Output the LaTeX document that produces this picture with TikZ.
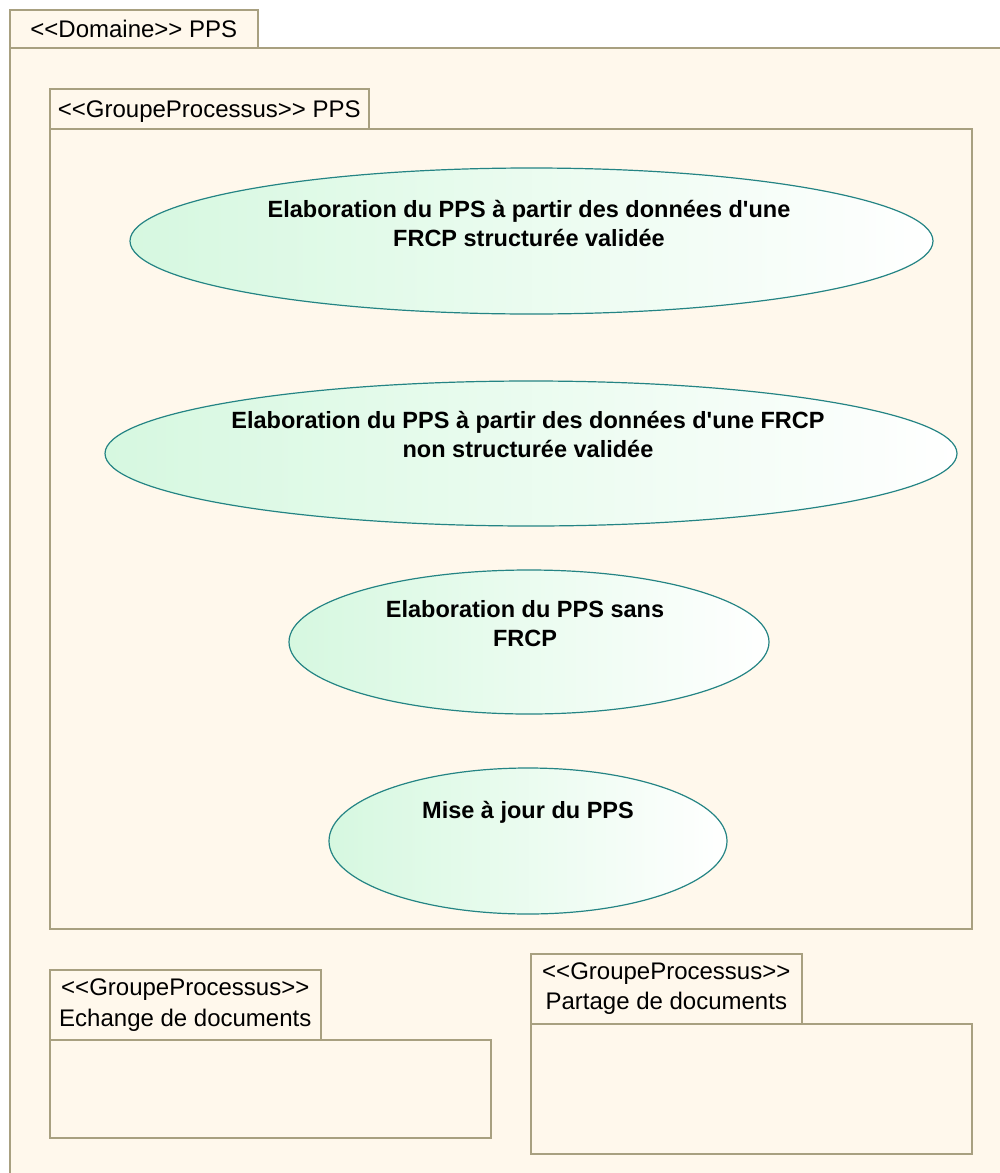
\documentclass[tikz,border=0pt]{standalone}
\usepackage{fontspec}
\setmainfont{Liberation Sans}[Ligatures=TeXOff]
\usetikzlibrary{shapes.geometric}

\definecolor{pkgfill}{RGB}{255,248,236}
\definecolor{pkgline}{RGB}{168,160,128}
\definecolor{ucline}{RGB}{36,132,132}
\definecolor{ucfill}{RGB}{214,248,224}

\tikzset{
  pkg/.style={draw=pkgline, fill=pkgfill, line width=1.6pt, rectangle,
    inner sep=0pt, anchor=north west},
  pkgtab/.style={pkg, align=center,
    font=\fontsize{24}{30}\selectfont},
  usecase/.style={ellipse, draw=ucline, line width=1.2pt, inner sep=0pt,
    left color=ucfill, right color=white},
  uclabel/.style={anchor=north, align=center, inner sep=0pt,
    font=\fontsize{23.5}{29.5}\selectfont\bfseries}
}

\begin{document}
\begin{tikzpicture}[x=1pt, y=-1pt]
  \useasboundingbox (0,0) rectangle (1000,1173);
  \fill[white] (0,0) rectangle (1000,1173);

  % Domain package
  \node[pkgtab, minimum width=248pt, minimum height=38pt,
        text height=17pt, text depth=0pt] (domTab) at (9,9) {<<Domaine>> PPS};
  \node[pkg, minimum width=1010pt, minimum height=1140pt] (domBody) at (9,47) {};

  % Process group PPS
  \node[pkgtab, minimum width=319pt, minimum height=40pt,
        text height=17pt, text depth=0pt] (ppsTab) at (49,88) {<<GroupeProcessus>> PPS};
  \node[pkg, minimum width=922pt, minimum height=800pt] (ppsBody) at (49,128) {};

  % Use cases
  \node[usecase, minimum width=803pt, minimum height=146pt] (uc1) at (531.5,241) {};
  \node[uclabel] (uc1t) at (529,200)
    {Elaboration du PPS à partir des données d'une\\FRCP structurée validée};

  \node[usecase, minimum width=852pt, minimum height=145pt] (uc2) at (531,453.5) {};
  \node[uclabel] (uc2t) at (528,411)
    {Elaboration du PPS à partir des données d'une FRCP\\non structurée validée};

  \node[usecase, minimum width=480pt, minimum height=144pt] (uc3) at (529,642) {};
  \node[uclabel] (uc3t) at (525,600)
    {Elaboration du PPS sans\\FRCP};

  \node[usecase, minimum width=398pt, minimum height=146pt] (uc4) at (528,841) {};
  \node[uclabel] (uc4t) at (528,801) {Mise à jour du PPS};

  % Process group: document exchange
  \node[pkgtab, minimum width=271pt, minimum height=70pt] (echTab) at (49,969)
    {\raisebox{-3pt}{\shortstack{<<GroupeProcessus>>\\[6pt]Echange de documents}}};
  \node[pkg, minimum width=441pt, minimum height=98pt] (echBody) at (49,1039) {};

  % Process group: document sharing
  \node[pkgtab, minimum width=271pt, minimum height=70pt] (parTab) at (530,953)
    {<<GroupeProcessus>>\\Partage de documents};
  \node[pkg, minimum width=441pt, minimum height=130pt] (parBody) at (530,1023) {};
\end{tikzpicture}
\end{document}
